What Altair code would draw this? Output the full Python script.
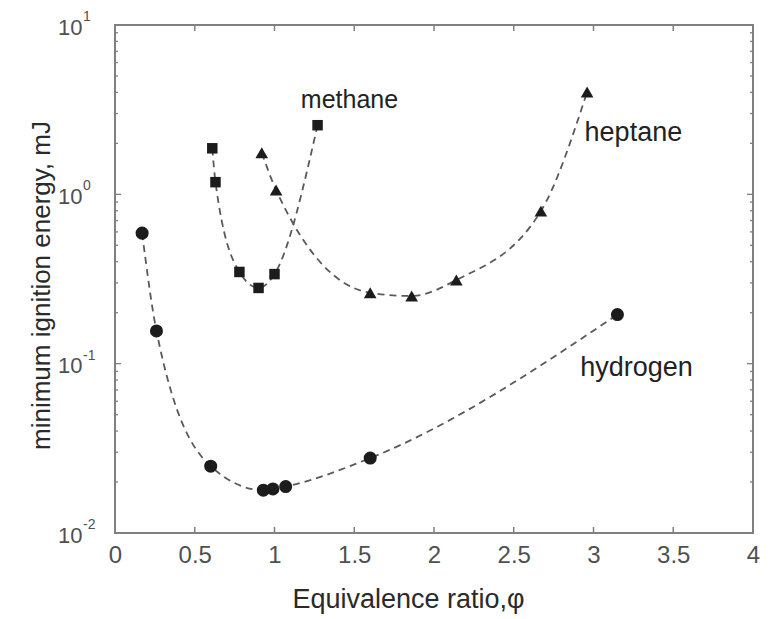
import altair as alt
import pandas as pd

# ---- data ----
phi_h2 = [0.17, 0.26, 0.60, 0.93, 0.99, 1.07, 1.60, 3.15]
mie_h2 = [0.59, 0.156, 0.0248, 0.0179, 0.0182, 0.0188, 0.0277, 0.195]

phi_ch4 = [0.61, 0.63, 0.78, 0.90, 1.00, 1.27]
mie_ch4 = [1.87, 1.18, 0.348, 0.280, 0.338, 2.56]

phi_c7 = [0.92, 1.01, 1.60, 1.86, 2.14, 2.67, 2.96]
mie_c7 = [1.76, 1.06, 0.262, 0.251, 0.312, 0.796, 4.02]

x_tick_vals = [0, 0.5, 1, 1.5, 2, 2.5, 3, 3.5, 4]
x_inner_ticks = [0.5, 1, 1.5, 2, 2.5, 3, 3.5]
y_tick_vals = [0.01, 0.1, 1, 10]
y_exponents = ["-2", "-1", "0", "1"]
y_major_inner = [0.1, 1]
y_minor_inner = [k * d for d in (0.01, 0.1, 1) for k in range(2, 10)]

methane_label = ["methane"]
methane_phi = [1.47]
methane_mie = [3.6]
other_labels = ["heptane", "hydrogen"]
other_phi = [3.25, 3.27]
other_mie = [2.3, 0.094]

W, H = 638, 508
FONT = "Liberation Sans"
INK = "#1c1c1c"
FRAME = "#808080"

xs = alt.Scale(domain=[0, 4], nice=False, zero=False)
ys = alt.Scale(type="log", domain=[0.01, 10], nice=False)

xaxis = alt.Axis(
    title="Equivalence ratio,φ", values=x_tick_vals, format="~g", grid=False,
    domain=False, ticks=False, labelPadding=10, labelFontSize=24, labelColor="#505050",
    labelFont=FONT, titleFont=FONT, titleFontSize=27, titleFontWeight="normal",
    titleColor="#2a2a2a", titleX=293, titleY=74, titleAlign="center",
    titleBaseline="alphabetic", labelFlush=False,
)
yaxis = alt.Axis(
    title="minimum ignition energy, mJ", values=y_tick_vals, labelExpr="'10'",
    grid=False, domain=False, ticks=False, labelPadding=33, labelOffset=2,
    labelFontSize=22, labelColor="#505050", labelFont=FONT, titleFont=FONT,
    titleFontSize=26, titleFontWeight="normal", titleColor="#2a2a2a",
    titleX=-66, titleY=260, titleAngle=-90, titleAlign="center",
    titleBaseline="alphabetic", labelFlush=False,
)


def X(f):
    return alt.X(f, type="quantitative", scale=xs, axis=xaxis)


def Y(f):
    return alt.Y(f, type="quantitative", scale=ys, axis=yaxis)


def series(phi, mie, shape, size):
    df = pd.DataFrame({"phi": phi, "mie": mie})
    line = alt.Chart(df).mark_line(
        interpolate="monotone", strokeDash=[7, 5], strokeWidth=1.8, color="#5a5a5a"
    ).encode(x=X("phi"), y=Y("mie"))
    pts = alt.Chart(df).mark_point(
        filled=True, shape=shape, size=size, color=INK, opacity=1
    ).encode(x=X("phi"), y=Y("mie"))
    return [line, pts]


layers = []
layers += series(phi_h2, mie_h2, "circle", 170)
layers += series(phi_ch4, mie_ch4, "square", 110)
layers += series(phi_c7, mie_c7, "triangle-up", 160)

# inward ticks (matlab style)
xt = pd.DataFrame({"v": x_inner_ticks})
for y0, y1 in ((H, H - 6), (0, 6)):
    layers.append(
        alt.Chart(xt).mark_rule(color=FRAME, strokeWidth=1.5).encode(
            x=X("v"), y=alt.value(y0), y2=alt.value(y1)
        )
    )
for vals, ln in ((y_major_inner, 6), (y_minor_inner, 3)):
    yt = pd.DataFrame({"v": vals})
    for x0, x1 in ((0, ln), (W, W - ln)):
        layers.append(
            alt.Chart(yt).mark_rule(color=FRAME, strokeWidth=1.3).encode(
                y=Y("v"), x=alt.value(x0), x2=alt.value(x1)
            )
        )

# exponents of the y tick labels
exp_df = pd.DataFrame({"v": y_tick_vals, "e": y_exponents})
layers.append(
    alt.Chart(exp_df).mark_text(
        align="left", baseline="middle", dy=-8, fontSize=14, font=FONT, color="#505050"
    ).encode(y=Y("v"), x=alt.value(-32), text="e:N")
)

# curve labels
m_df = pd.DataFrame({"t": methane_label, "phi": methane_phi, "mie": methane_mie})
layers.append(
    alt.Chart(m_df).mark_text(
        align="center", baseline="middle", fontSize=25, font=FONT, color="#222222"
    ).encode(x=X("phi"), y=Y("mie"), text="t:N")
)
o_df = pd.DataFrame({"t": other_labels, "phi": other_phi, "mie": other_mie})
layers.append(
    alt.Chart(o_df).mark_text(
        align="center", baseline="middle", fontSize=27, font=FONT, color="#222222"
    ).encode(x=X("phi"), y=Y("mie"), text="t:N")
)

chart = alt.layer(*layers).properties(
    width=W, height=H,
    autosize=alt.AutoSizeParams(type="none"),
    padding={"left": 107, "top": 17, "right": 14, "bottom": 84},
    background="white",
).configure_view(stroke=FRAME, strokeWidth=2).configure_text(font=FONT)

chart.save("out.html", embed_options={"renderer": "svg", "actions": False})
